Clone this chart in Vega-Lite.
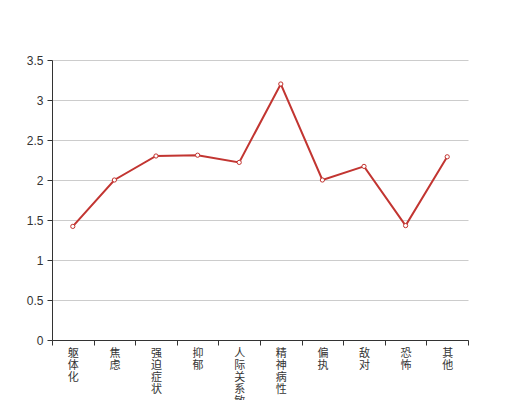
{
  "$schema": "https://vega.github.io/schema/vega-lite/v6.json",
  "width": 416,
  "height": 280,
  "autosize": {"type": "none"},
  "padding": {"left": 52, "top": 60, "right": 52, "bottom": 60},
  "background": "white",
  "config": {"view": {"stroke": null}},
  "data": {
    "values": [
      {"factor": "躯体化", "score": 1.42},
      {"factor": "焦虑", "score": 2.0},
      {"factor": "强迫症状", "score": 2.3},
      {"factor": "抑郁", "score": 2.31},
      {"factor": "人际关系敏感", "score": 2.22},
      {"factor": "精神病性", "score": 3.2},
      {"factor": "偏执", "score": 2.0},
      {"factor": "敌对", "score": 2.17},
      {"factor": "恐怖", "score": 1.43},
      {"factor": "其他", "score": 2.29}
    ]
  },
  "encoding": {
    "x": {
      "field": "factor",
      "type": "ordinal",
      "sort": null,
      "scale": {"paddingInner": 0, "paddingOuter": 0},
      "axis": {
        "title": null,
        "labelAngle": 0,
        "labelExpr": "split(datum.label, '')",
        "labelLineHeight": 12,
        "labelFont": "Noto Sans CJK SC",
        "labelFontSize": 11,
        "labelColor": "#333",
        "labelBaseline": "top",
        "labelPadding": 2,
        "tickBand": "extent",
        "tickSize": 5,
        "tickColor": "#333",
        "domainColor": "#333",
        "grid": false
      }
    },
    "y": {
      "field": "score",
      "type": "quantitative",
      "scale": {"domain": [0, 3.5], "nice": false},
      "axis": {
        "title": null,
        "values": [0, 0.5, 1, 1.5, 2, 2.5, 3, 3.5],
        "format": "~g",
        "labelFont": "Liberation Sans",
        "labelFontSize": 12,
        "labelColor": "#333",
        "labelPadding": 4,
        "tickSize": 5,
        "tickColor": "#333",
        "domainColor": "#333",
        "gridColor": "#ccc",
        "gridWidth": 1
      }
    }
  },
  "layer": [
    {"mark": {"type": "line", "color": "#c23531", "strokeWidth": 2}},
    {"mark": {"type": "point", "shape": "circle", "filled": true, "fill": "white", "stroke": "#c23531", "strokeWidth": 1, "size": 18, "opacity": 1}}
  ]
}
